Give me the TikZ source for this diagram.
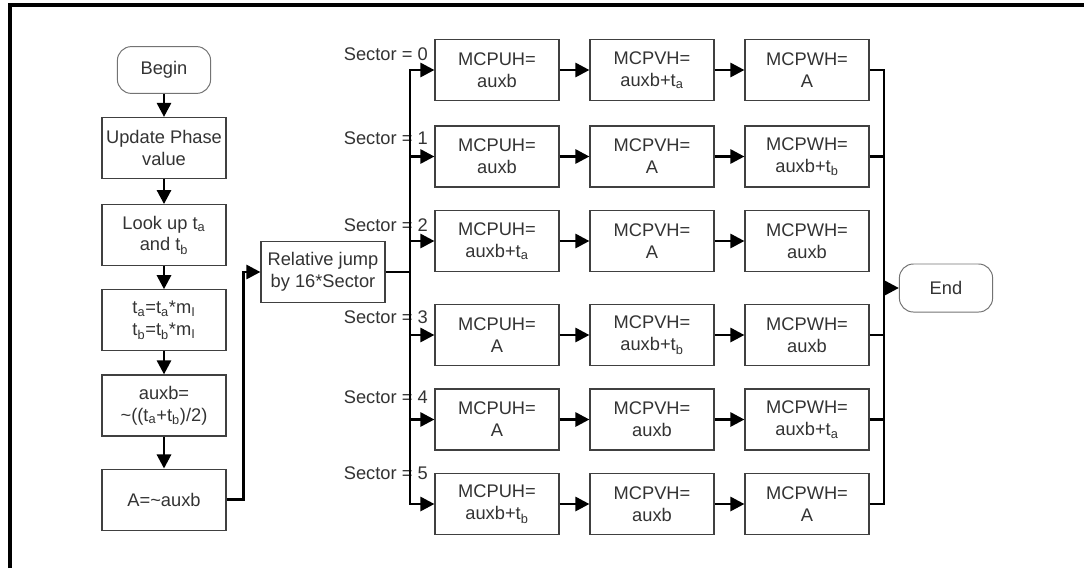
\documentclass[tikz,border=0pt]{standalone}
\usepackage{fontspec}
\setmainfont{Liberation Sans}
\usetikzlibrary{arrows.meta,positioning}

\tikzset{
  block/.style={draw=black!75, line width=0.8pt, minimum width=3.1cm,
    minimum height=1.525cm, align=center, text=black!80, inner sep=1pt},
  term/.style={draw=black!55, line width=0.7pt, rounded corners=0.35cm,
    minimum width=2.33cm, minimum height=1.17cm, text=black!80},
  flow/.style={line width=2pt, -{Triangle[length=10pt,width=10pt]}},
  wire/.style={line width=2pt},
  seclabel/.style={anchor=east, text=black!80, inner sep=0pt},
}

\begin{document}
\begin{tikzpicture}[x=0.025cm, y=-0.025cm, font=\fontsize{13}{15.6}\selectfont]
\useasboundingbox (0,0) rectangle (1084,568);
% frame
\draw[line width=2.2pt] (10,568) |- (1084,5);

% left column
\node[term] (begin) at (164,70) {Begin};
\node[block] (upd) at (164,148) {Update Phase\\value};
\node[block] (look) [below=0.625cm of upd] {Look up t\textsubscript{a}\\and t\textsubscript{b}};
\node[block] (scale) [below=0.575cm of look] {t\textsubscript{a}=t\textsubscript{a}*m\textsubscript{I}\\t\textsubscript{b}=t\textsubscript{b}*m\textsubscript{I}};
\node[block] (auxb) [below=0.575cm of scale] {auxb=\\\textasciitilde((t\textsubscript{a}+t\textsubscript{b})/2)};
\node[block] (inv) [below=0.8cm of auxb] {A=\textasciitilde auxb};
\node[block] (rel) at (323,272) {Relative jump\\by 16*Sector};

% compare values for each sector
\foreach \r/\y/\u/\v/\w in {
    0/70/auxb/auxb+t\textsubscript{a}/A,
    1/156.5/auxb/A/auxb+t\textsubscript{b},
    2/241/auxb+t\textsubscript{a}/A/auxb,
    3/335/A/auxb+t\textsubscript{b}/auxb,
    4/419.5/A/auxb/auxb+t\textsubscript{a},
    5/504/auxb+t\textsubscript{b}/auxb/A} {
  \node[block] (u\r) at (497,\y) {MCPUH=\\\u};
  \node[block] (v\r) at (652,\y) {MCPVH=\\\v};
  \node[block] (w\r) at (807,\y) {MCPWH=\\\w};
}
\foreach \r/\ly in {0/54,1/138,2/225,3/317,4/397,5/473}
  \node[seclabel] (s\r) at (428,\ly) {Sector = \r};

\node[term, minimum height=1.2cm] (end) at (946,288) {End};

\coordinate (split) at (410,272);
\coordinate (join) at (884,288);

\draw[flow] (begin) -- (upd);
\draw[flow] (upd) -- (look);
\draw[flow] (look) -- (scale);
\draw[flow] (scale) -- (auxb);
\draw[flow] (auxb) -- (inv);
\draw[flow] (inv.east) -- ++(17,0) |- (rel.west);
\draw[wire] (rel.east) -- (split);
\foreach \r in {0,...,5} {
  \draw[flow] (split) |- (u\r.west);
  \draw[flow] (u\r) -- (v\r);
  \draw[flow] (v\r) -- (w\r);
}
\foreach \r in {0,1,3,4,5}
  \draw[wire] (w\r.east) -| (join);
\draw[flow] (join) -- (end.west);
\end{tikzpicture}
\end{document}
